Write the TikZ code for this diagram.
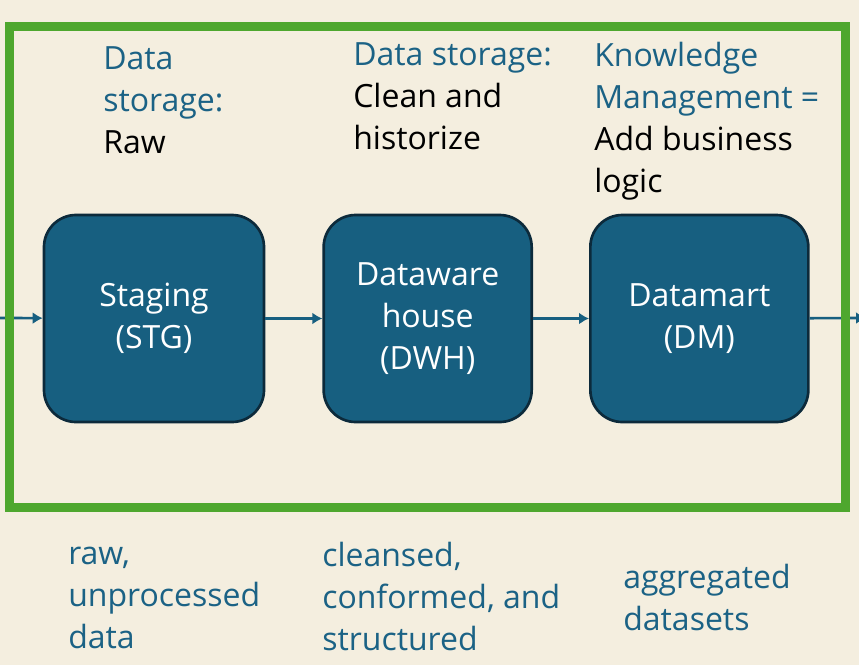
\documentclass[tikz,border=0pt]{standalone}
\usepackage{fontspec}
\setmainfont{Open Sans}
\usepackage{tikz}
\usetikzlibrary{positioning,arrows.meta}
\definecolor{paper}{HTML}{F4EEDF}
\definecolor{boxfill}{HTML}{175F80}
\definecolor{boxline}{HTML}{0C2A3B}
\definecolor{frameg}{HTML}{4EA72E}
\definecolor{noteteal}{HTML}{1B6285}
\newcommand{\notehead}[1]{\textcolor{noteteal}{#1}}

\begin{document}
\begin{tikzpicture}[
    x=0.75pt, y=-0.75pt,
    every node/.style={font=\fontsize{24pt}{31.5pt}\selectfont},
    stage/.style={
      rounded corners=24pt, draw=boxline, line width=2pt, fill=boxfill,
      text=white, align=center, minimum height=155.25pt
    },
    remark/.style={anchor=base west, align=left, inner sep=0pt},
    result/.style={remark, text=noteteal},
    flow/.style={draw=boxfill, line width=2pt, -{Latex[length=7.5pt,width=9pt]}},
    frame/.style={draw=frameg, line width=6.75pt},
  ]
    \useasboundingbox (0,0) rectangle (859,665);
    \fill[paper] (0,0) rectangle (859,665);

    \node[stage, minimum width=165pt](stg) at (154,318.5) {Staging\\(STG)};
    \node[stage, minimum width=156pt, right=42.75pt of stg](dwh){Dataware\\house\\(DWH)};
    \node[stage, minimum width=163.5pt, right=42pt of dwh](dm){Datamart\\(DM)};

    % notes sit on the baseline of their last line
    \node[remark](stg_note) at (103,153){\notehead{Data}\\\notehead{storage:}\\Raw};
    \node[remark](dwh_note) at (353,149){\notehead{Data storage:}\\Clean and\\historize};
    \node[remark](dm_note) at (594,192){\notehead{Knowledge}\\\notehead{Management =}\\Add business\\logic};

    \node[result](stg_out) at (68,648){raw,\\unprocessed\\data};
    \node[result](dwh_out) at (322,650){cleansed,\\conformed, and\\structured};
    \node[result](dm_out) at (623,630){aggregated\\datasets};

    \coordinate (src) at (0,318);
    \coordinate (sink) at (866,318);
    \draw[flow] (src) -- (stg);
    \draw[flow] (stg) -- (dwh);
    \draw[flow] (dwh) -- (dm);
    \draw[flow] (dm) -- (sink);

    \draw[frame] (9.5,26.5) rectangle (845.5,507.5);
  \end{tikzpicture}
\end{document}
